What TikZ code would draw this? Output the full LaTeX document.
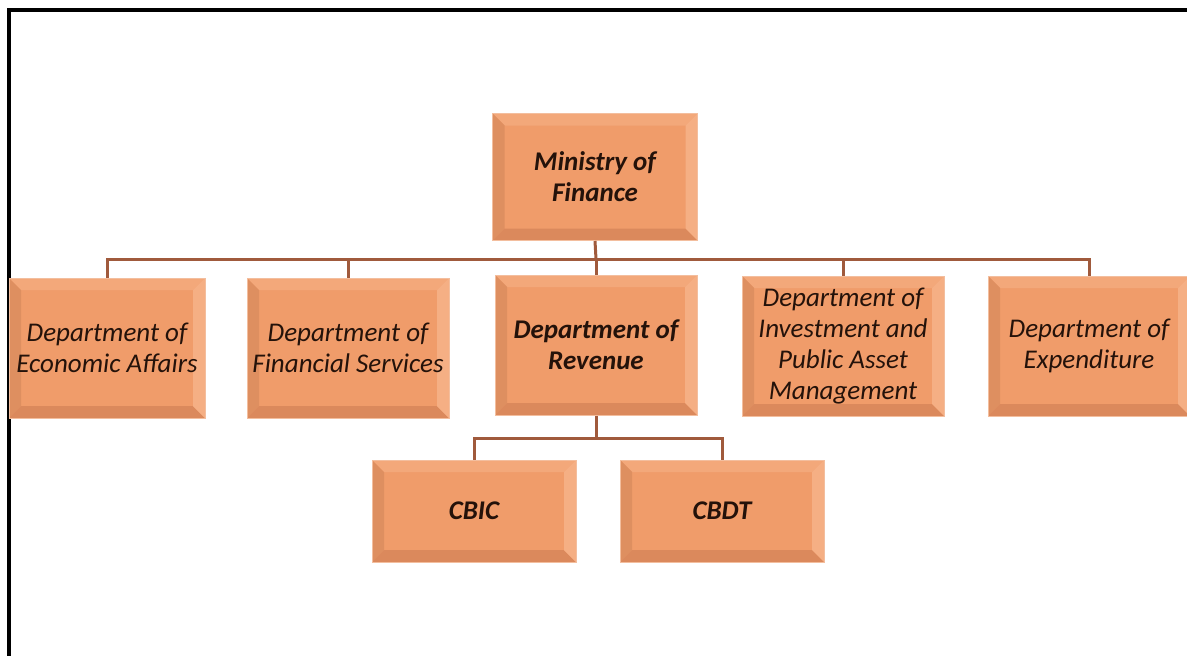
\documentclass[tikz,border=0pt]{standalone}
\usepackage{fontspec}
\setmainfont{Carlito}
\usetikzlibrary{positioning}

\definecolor{boxfill}{HTML}{F09C6A}
\definecolor{boxedge}{HTML}{F3BE9E}
\definecolor{bevtop}{HTML}{F3A87A}
\definecolor{bevleft}{HTML}{DE8F60}
\definecolor{bevbot}{HTML}{DB895C}
\definecolor{bevright}{HTML}{F5AF84}
\definecolor{linkcol}{HTML}{A05A3C}
\definecolor{inkcol}{HTML}{24120A}

\begin{document}
\begin{tikzpicture}[x=1pt,y=-1pt]
\tikzstyle{orgbox}=[rectangle, fill=boxfill, draw=boxedge, line width=1pt, align=center,
  text=inkcol, font=\fontsize{27}{31}\selectfont\itshape,
  path picture={
    \coordinate (pnw) at (path picture bounding box.north west);
    \coordinate (pne) at (path picture bounding box.north east);
    \coordinate (psw) at (path picture bounding box.south west);
    \coordinate (pse) at (path picture bounding box.south east);
    \fill[bevtop] (pnw) -- (pne) -- ([shift={(-12pt,-12pt)}]pne) -- ([shift={(12pt,-12pt)}]pnw) -- cycle;
    \fill[bevleft] (pnw) -- ([shift={(12pt,-12pt)}]pnw) -- ([shift={(12pt,12pt)}]psw) -- (psw) -- cycle;
    \fill[bevbot] (psw) -- ([shift={(12pt,12pt)}]psw) -- ([shift={(-12pt,12pt)}]pse) -- (pse) -- cycle;
    \fill[bevright] (pne) -- (pse) -- ([shift={(-12pt,12pt)}]pse) -- ([shift={(-12pt,-12pt)}]pne) -- cycle;
  }]
\tikzstyle{dept}=[orgbox, minimum width=202pt, minimum height=140pt]
\tikzstyle{board}=[orgbox, minimum width=204pt, minimum height=102pt]
\tikzstyle{head}=[font=\fontsize{27}{31}\selectfont\bfseries\itshape]
\tikzstyle{connect}=[draw=linkcol, line width=3pt]
\useasboundingbox (0,0) rectangle (1187,656);
% 1. Frame
%%%%%%%%%%
\draw[line width=4pt] (9,656) -- (9,10) -- (1187,10);
% 2. Nodes
%%%%%%%%%%
\node[orgbox, head, minimum width=205pt, minimum height=127pt] (mof) at (595,177) {Ministry of\\Finance};

\node[dept, minimum width=196pt] (dea) at (107,348) {Department of\\Economic Affairs};
\node[dept] (dfs) at (348,348) {Department of\\Financial Services};
\node[dept, head] (dor) at (596,345) {Department of\\Revenue};
\node[dept] (dipam) at (843,346) {Department of\\Investment and\\Public Asset\\Management};
\node[dept] (doe) at (1089,346) {Department of\\Expenditure};

\node[board, head] (cbic) at (474,511) {CBIC};
\node[board, head] (cbdt) at (722,511) {CBDT};

\coordinate (bus) at (596,259);
\coordinate (revbus) at (596,438);
% 3. Connectors
%%%%%%%%%%%
\draw[connect] (mof.south) -- (bus);
\draw[connect] (bus) -| (dea.north);
\draw[connect] (bus) -| (dfs.north);
\draw[connect] (bus) -- (dor.north);
\draw[connect] (bus) -| (dipam.north);
\draw[connect] (bus) -| (doe.north);

\draw[connect] (dor.south) -- (revbus);
\draw[connect] (revbus) -| (cbic.north);
\draw[connect] (revbus) -| (cbdt.north);
\end{tikzpicture}
\end{document}
